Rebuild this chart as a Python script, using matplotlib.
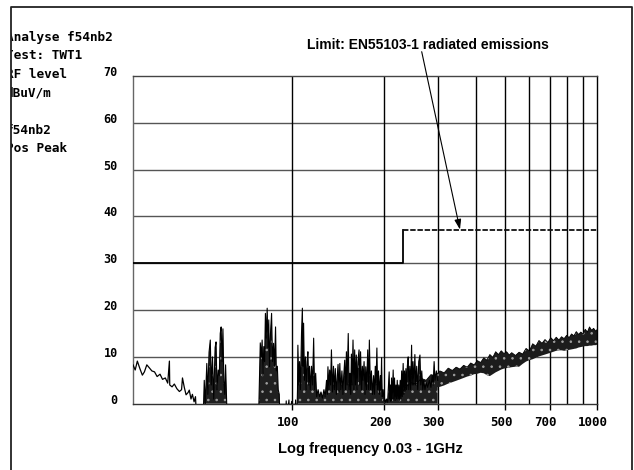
import matplotlib
matplotlib.use('Agg')
import matplotlib.pyplot as plt
import matplotlib.transforms as mtransforms
from matplotlib.lines import Line2D
from matplotlib.patches import Rectangle

# ---- data (MHz, dBuV/m) ----
noise_freq = [30, 30.5, 31, 31.6, 32.2, 32.7, 33.3, 34, 34.6, 35.3, 36, 36.8, 37.5,
              38.3, 39, 39.5, 39.6, 40.3, 41, 41.8, 42.6, 43.3, 43.6, 44.2, 44.8,
              45.5, 45.9, 46.5, 47, 47.6, 48.1, 48.5]
noise_level = [8.3, 7.2, 9.1, 7.5, 6.1, 6.8, 8.3, 7.6, 7.0, 6.8, 5.8, 6.3, 5.2,
               5.5, 4.4, 9.1, 4.0, 3.6, 4.2, 3.2, 2.6, 3.0, 5.5, 3.5, 1.9,
               2.4, 2.9, 1.0, 2.0, 0.4, 1.5, -3]

spike_freq = [51.0, 51.4, 51.8, 52.4, 52.8, 53.3, 53.8, 54.2, 54.7, 55.2, 55.8, 56.2,
              56.6, 57.1, 57.6, 58.0, 58.4, 58.8, 59.2, 59.6, 60.0, 60.4, 60.9, 61.2,
              77.5, 78.0, 78.5, 79.1, 79.6, 80.1, 80.6, 81.1, 81.6, 82.1, 82.7, 83.2,
              83.7, 84.2, 84.8, 85.5, 86.1, 86.8, 87.4, 88.1, 88.6, 89.3, 89.9, 90.6, 91.0,
              95.0, 95.5, 96.0, 97.5, 98.0, 99.5, 100.0, 102.0, 102.5, 103.0,
              103.5, 104.0, 104.3, 105.0, 105.6, 106.3, 107.2, 107.9, 108.4, 108.9,
              109.6, 110.4, 111.0, 111.8, 112.5, 113.2, 113.9, 114.6, 115.6, 116.5,
              117.5, 118.3, 119.3, 120.2, 121.5, 122.9, 124.2, 125.5, 127.0, 128.2,
              129.5, 130.3, 130.9, 131.8, 132.6, 133.5, 134.4, 135.4, 136.5, 137.4,
              138.4, 139.5, 140.5, 141.3, 142.3, 143.2, 144.2, 145.5, 146.5, 147.5,
              148.6, 149.5, 150.5, 151.3, 152.6, 153.6, 154.6, 155.5, 156.3, 157.2,
              158.2, 159.2, 160.2, 161.2, 162.2, 163.1, 164.2, 165.6, 166.5, 167.5,
              168.7, 169.8, 170.7, 172.0, 173.2, 174.2, 175.3, 176.8, 178.0, 179.0,
              180.5, 181.8, 183.3, 184.8, 186.0, 187.2, 188.2, 189.5, 190.5, 191.8,
              193.0, 194.5, 195.5, 196.3, 197.3, 198.7, 200.0, 201.2, 202.5, 204.0,
              205.5, 206.8, 207.9, 208.8, 209.8, 210.8, 211.7, 212.8, 214.3, 215.2,
              216.5, 217.5, 218.8, 219.9, 221.0, 222.2, 223.5, 224.5, 226.0, 227.1,
              228.5, 229.5, 231.1, 232.2, 233.5, 234.6, 236.0, 237.2, 238.5, 240.1,
              241.2, 243.0, 244.5, 246.3, 247.5, 249.0, 250.5, 252.5, 254.0, 256.0,
              258.0, 260.0, 262.4, 264.0, 266.0, 268.0, 270.0, 272.5, 275.0, 278.0,
              282.0, 285.0, 288.0, 290.0, 292.0, 294.0, 297.0, 300.0]
spike_level = [-3, 5, 0, 8.6, 2, 11, 13.6, 4, 10, 1, 12, 13.2,
               3, 7.2, 6, 15, 16.4, 9, 16.0, 5, 2, 8.3, 0, -3,
               -3, 5, 13, 10, 13.6, 6, 12.2, 9, 19.3, 14, 20.4, 12,
               17.9, 7.9, 15, 19.3, 9, 12.9, 8, 16.4, 7, 8, 3, 2, -3,
               -3, 0.6, -3, 0.8, -3, 0.5, -3, -3, 0.8, -3,
               -3, 3, 12.5, 4, 9, 3, 15, 20.4, 8, 17.2,
               5, 10, 3, 9, 11.1, 4, 8, 3, 8, 4,
               14.0, 3, 6.5, 1.5, 3, 1.5, 2.5, 1.2, 3, 1.5,
               5, 2, 7.9, 3, 7.2, 4, 11.5, 2.5, 8, 3,
               7.5, 2, 6, 8.4, 2.5, 8.6, 3, 7, 2, 6,
               9.3, 3, 11.1, 4, 15.0, 3, 6.5, 2, 10.6, 4,
               13.6, 3, 11.5, 4, 10.4, 3, 9, 11.5, 4, 11.1,
               3, 8, 5, 9, 2, 7.9, 3, 11.5, 3, 13.6,
               3, 7, 2, 6, 2, 8, 4, 11.9, 3, 7,
               2, 6, 3, 9.8, 1.5, 3, 0.5, 1, 0.3, 1,
               0.3, 4, 6.8, 1, 4, 0.5, 5.5, 1, 7.2, 1,
               5.5, 0.7, 4, 1, 5, 1, 4, 0.7, 5, 1,
               7, 1.5, 8.6, 2, 7, 2.5, 7.5, 3, 8, 10,
               3, 8, 3, 12.5, 4, 9, 4, 10.5, 4, 8,
               3, 9, 10.4, 4, 7, 3, 5, 3, 4.5, 3.5,
               5, 3.5, 6, 4, 9.0, 5, 7, 5]

band_freq = [225, 235, 245, 255, 265, 275, 285, 295, 305, 315, 325, 335, 345, 355,
             365, 375, 385, 395, 405, 415, 425, 435, 445, 455, 465, 475, 485, 495,
             505, 515, 525, 540, 555, 570, 585, 600, 615, 630, 645, 660, 675, 690,
             705, 720, 735, 750, 765, 780, 795, 810, 825, 840, 855, 870, 885, 900,
             915, 930, 945, 960, 975, 990, 1000]
band_lo = [0.3, 0.8, 1.2, 1.8, 2.5, 3.0, 3.2, 3.5, 3.6, 3.9, 4.3, 4.6, 4.9, 5.2,
           5.5, 5.8, 6.0, 6.3, 6.4, 6.6, 6.5, 6.1, 5.9, 6.3, 6.7, 7.0, 7.3, 7.5,
           7.6, 7.7, 7.8, 7.9, 7.9, 8.5, 9.0, 9.3, 9.5, 9.8, 10.1, 10.3, 10.5, 10.7,
           10.9, 11.1, 11.3, 11.4, 11.4, 11.3, 11.4, 11.5, 11.6, 11.7, 11.8, 12.0, 12.1, 12.2,
           12.3, 12.3, 12.4, 12.4, 12.5, 12.5, 12.6]
band_hi = [1.5, 3.5, 4.5, 4.2, 5.4, 5.0, 6.2, 6.0, 7.0, 6.6, 7.6, 7.1, 7.8, 7.4,
           8.2, 7.8, 8.7, 8.3, 9.2, 8.8, 9.8, 9.3, 10.5, 9.9, 11.1, 10.5, 11.3, 10.7,
           11.1, 10.4, 10.9, 10.3, 11.0, 10.6, 11.8, 11.3, 12.8, 12.3, 13.5, 12.9, 13.7, 13.1,
           14.1, 13.5, 14.2, 13.6, 14.3, 13.9, 14.6, 14.1, 14.9, 14.5, 15.4, 14.8, 15.3, 14.9,
           15.9, 15.3, 16.4, 15.7, 16.1, 15.5, 15.8]

limit_freq = [30, 230, 230, 1000]
limit_level = [30, 30, 37, 37]

grid_freq = [100, 200, 300, 400, 500, 600, 700, 800, 900]
xtick_freq = [100, 200, 300, 500, 700, 1000]
xtick_labels = ['100', '200', '300', '500', '700', '1000']
ytick_values = [0, 10, 20, 30, 40, 50, 60, 70]
info_lines = ['Analyse f54nb2', 'Test: TWT1', 'RF level', 'dBuV/m', '', 'f54nb2', 'Pos Peak']

W, H = 634, 470
MONO = 'DejaVu Sans Mono'
SANS = 'Liberation Sans'

plt.rcParams['hatch.linewidth'] = 0.6


def fx(x):
    return x / W


def fy(y):
    return 1 - y / H


fig = plt.figure(figsize=(W / 100, H / 100), dpi=100)
ax = fig.add_axes([fx(133), fy(403.7), (597 - 133) / W, (403.7 - 76) / H])
ax.set_xscale('log')
ax.set_xlim(30, 1000)
ax.set_ylim(0, 70)

# grid
for v in ytick_values[1:-1]:
    ax.axhline(v, color='#555555', lw=1, zorder=1)
for f in grid_freq:
    ax.axvline(f, color='black', lw=1, zorder=1)

# limit line
ax.plot(limit_freq[:3], limit_level[:3], color='black', lw=1.3, zorder=4)
ax.plot(limit_freq[2:], limit_level[2:], color='#111111', lw=1.3,
        linestyle=(0, (3, 1)), zorder=4)

# measured trace
ax.plot(noise_freq, noise_level, color='black', lw=0.9, zorder=3)
ax.fill_between(band_freq, band_lo, band_hi, facecolor='#1c1c1c', edgecolor='#a0a0a0',
                hatch='..', linewidth=0, zorder=2)
ax.fill_between(spike_freq, spike_level, 0, facecolor='#202020', edgecolor='#a0a0a0',
                hatch='..', linewidth=0, zorder=2)
ax.plot(spike_freq, spike_level, color='black', lw=0.8, zorder=3)
ax.plot(band_freq, band_hi, color='black', lw=0.6, zorder=3)

# axes look
ax.spines['left'].set_color('#666666')
ax.spines['top'].set_color('#444444')
ax.spines['bottom'].set_color('#333333')
ax.spines['right'].set_color('black')
for s in ax.spines.values():
    s.set_linewidth(1)

ax.set_xticks(xtick_freq)
ax.set_xticklabels(xtick_labels, fontfamily=MONO, fontweight='bold', fontsize=9)
ax.xaxis.set_minor_locator(plt.NullLocator())
ax.tick_params(axis='x', length=4, width=1, direction='out', pad=5, colors='black')
ax.set_yticks(ytick_values)
ax.set_yticklabels([str(v) for v in ytick_values], fontfamily=MONO, fontweight='bold',
                   fontsize=8.5)
ax.tick_params(axis='y', length=0, pad=11)
shift_x = mtransforms.ScaledTranslation(-4 / 100, 0, fig.dpi_scale_trans)
for lab in ax.get_xticklabels():
    lab.set_transform(lab.get_transform() + shift_x)
shift_y = mtransforms.ScaledTranslation(0, 5 / 100, fig.dpi_scale_trans)
for lab in ax.get_yticklabels():
    lab.set_transform(lab.get_transform() + shift_y)

# x label
fig.text(fx(370), fy(449), 'Log frequency 0.03 - 1GHz', ha='center', va='center',
         fontfamily=SANS, fontweight='bold', fontsize=10.5)

# limit annotation
fig.text(fx(427.5), fy(45), 'Limit: EN55103-1 radiated emissions', ha='center',
         va='center', fontfamily=SANS, fontweight='bold', fontsize=10)
ax.annotate('', xy=(355, 37.2), xycoords='data',
            xytext=(fx(421.7), fy(51.7)), textcoords='figure fraction',
            arrowprops=dict(arrowstyle='-|>,head_length=0.6,head_width=0.2',
                            color='black', lw=0.8, shrinkA=0, shrinkB=0))

# analyser header text (cut off by the frame on the left)
for i, line in enumerate(info_lines):
    fig.text(fx(5.5), fy(37 + i * 18.6), line, ha='left', va='center',
             fontfamily=MONO, fontweight='bold', fontsize=9.2)
fig.add_artist(Rectangle((0, 0), fx(10.5), 1, transform=fig.transFigure,
                         facecolor='white', edgecolor='none', zorder=10))

# outer frame
frame_x = [fx(11), fx(11), fx(632), fx(632)]
frame_y = [0, fy(7), fy(7), 0]
fig.add_artist(Line2D(frame_x, frame_y, transform=fig.transFigure, color='#222222',
                      lw=1.3, zorder=11))

fig.savefig('out.png', dpi=100)
